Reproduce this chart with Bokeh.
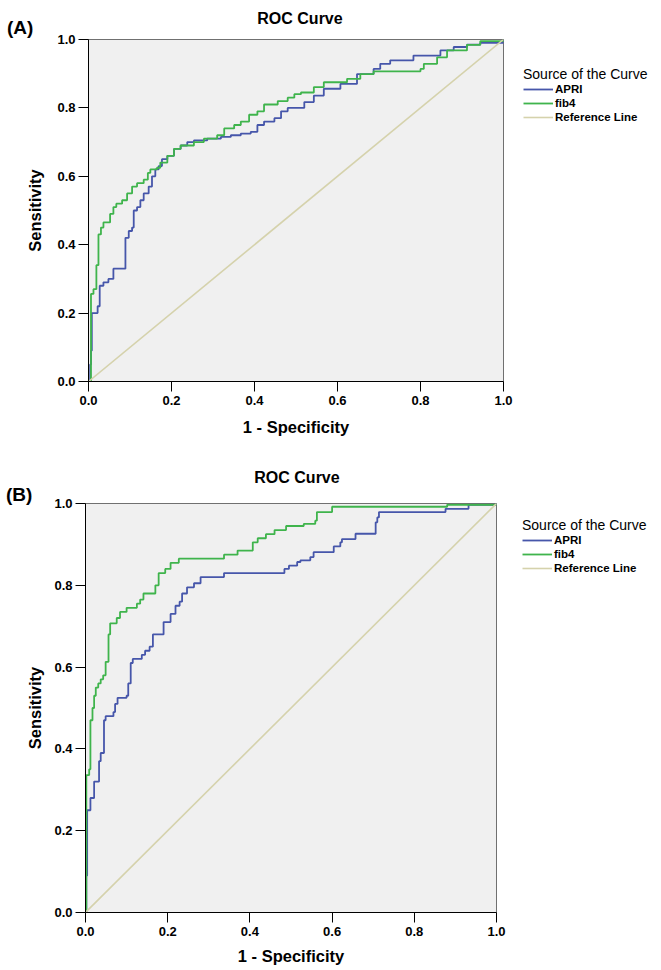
from bokeh.plotting import figure
from bokeh.layouts import column, row
from bokeh.models import Legend, LegendItem, FixedTicker, Range1d, Div
from bokeh.embed import file_html
from bokeh.resources import INLINE

# ---------------- data ----------------
ticks = [0.0, 0.2, 0.4, 0.6, 0.8, 1.0]
tick_labels = {0.0: "0.0", 0.2: "0.2", 0.4: "0.4", 0.6: "0.6", 0.8: "0.8", 1.0: "1.0"}
series_names = ["APRI", "fib4", "Reference Line"]
panel_tags = ["(A)", "(B)"]
title_text = "ROC Curve"
legend_title = "Source of the Curve"
x_label = "1 - Specificity"
y_label = "Sensitivity"

ref_x = [0.0, 1.0]
ref_y = [0.0, 1.0]

# Panel A
a_apri_x = [0.0, 0.004, 0.006, 0.008, 0.022, 0.027, 0.036, 0.048, 0.06, 0.089, 0.097, 0.105, 0.109,
            0.117, 0.125, 0.133, 0.145, 0.153, 0.161, 0.169, 0.177, 0.19, 0.206, 0.222, 0.238, 0.254,
            0.286, 0.319, 0.343, 0.367, 0.391, 0.407, 0.423, 0.448, 0.464, 0.48, 0.52, 0.543, 0.567,
            0.607, 0.647, 0.687, 0.703, 0.727, 0.783, 0.848, 0.88, 0.912, 0.944, 1.0]
a_apri_y = [0.0, 0.05, 0.09, 0.2, 0.22, 0.28, 0.29, 0.30, 0.33, 0.42, 0.44, 0.45, 0.50,
            0.51, 0.53, 0.55, 0.57, 0.60, 0.62, 0.63, 0.65, 0.66, 0.68, 0.69, 0.70, 0.705,
            0.71, 0.715, 0.72, 0.725, 0.73, 0.75, 0.76, 0.77, 0.79, 0.80, 0.817, 0.836, 0.856,
            0.87, 0.899, 0.914, 0.929, 0.939, 0.953, 0.968, 0.978, 0.985, 0.99, 1.0]
a_fib4_x = [0.0, 0.006, 0.012, 0.019, 0.024, 0.03, 0.036, 0.052, 0.06, 0.067, 0.081, 0.093, 0.105,
            0.117, 0.133, 0.143, 0.149, 0.165, 0.173, 0.19, 0.206, 0.222, 0.254, 0.278, 0.31, 0.327,
            0.351, 0.367, 0.387, 0.407, 0.423, 0.456, 0.48, 0.496, 0.512, 0.543, 0.567, 0.623, 0.655,
            0.687, 0.8, 0.808, 0.84, 0.864, 0.912, 0.944, 1.0]
a_fib4_y = [0.0, 0.256, 0.27, 0.34, 0.43, 0.45, 0.465, 0.49, 0.51, 0.52, 0.53, 0.55, 0.57,
            0.58, 0.59, 0.61, 0.62, 0.625, 0.64, 0.66, 0.68, 0.69, 0.70, 0.71, 0.72, 0.74,
            0.75, 0.76, 0.78, 0.79, 0.81, 0.82, 0.83, 0.84, 0.845, 0.861, 0.875, 0.885, 0.899,
            0.907, 0.914, 0.929, 0.948, 0.968, 0.984, 0.995, 1.0]

# Panel B
b_apri_x = [0.0, 0.002, 0.004, 0.012, 0.021, 0.033, 0.037, 0.045, 0.049, 0.068, 0.072, 0.078, 0.1,
            0.104, 0.11, 0.115, 0.137, 0.145, 0.156, 0.164, 0.19, 0.207, 0.219, 0.229, 0.235, 0.247,
            0.264, 0.28, 0.337, 0.484, 0.495, 0.515, 0.523, 0.547, 0.555, 0.604, 0.62, 0.624, 0.657,
            0.706, 0.71, 0.714, 0.876, 0.932, 1.0]
b_apri_y = [0.0, 0.09, 0.25, 0.28, 0.32, 0.37, 0.39, 0.47, 0.48, 0.49, 0.51, 0.525, 0.53,
            0.56, 0.61, 0.62, 0.63, 0.64, 0.65, 0.68, 0.71, 0.73, 0.75, 0.76, 0.78, 0.795,
            0.805, 0.82, 0.83, 0.84, 0.848, 0.857, 0.861, 0.869, 0.881, 0.895, 0.905, 0.913, 0.926,
            0.954, 0.966, 0.979, 0.987, 0.997, 1.0]
b_fib4_x = [0.0, 0.002, 0.009, 0.012, 0.017, 0.021, 0.025, 0.031, 0.037, 0.043, 0.049, 0.056, 0.06,
            0.076, 0.084, 0.1, 0.125, 0.133, 0.141, 0.17, 0.178, 0.194, 0.207, 0.227, 0.337, 0.37,
            0.407, 0.419, 0.439, 0.46, 0.488, 0.531, 0.559, 0.563, 0.6, 0.88, 1.0]
b_fib4_y = [0.0, 0.336, 0.35, 0.47, 0.50, 0.53, 0.55, 0.56, 0.57, 0.58, 0.613, 0.68, 0.707,
            0.72, 0.735, 0.745, 0.755, 0.765, 0.78, 0.80, 0.83, 0.84, 0.855, 0.865, 0.875, 0.885,
            0.905, 0.915, 0.925, 0.935, 0.945, 0.95, 0.958, 0.979, 0.992, 0.997, 1.0]

# ---------------- style ----------------
FONT = "Liberation Sans"
BLUE = "#4656AA"
GREEN = "#3FB44C"
REFC = "#D5D2AC"
FILL = "#F0F0F0"
W = 660
PW = 515            # width of each ROC figure
LW = W - PW         # width of each legend strip


def header(tag, height, title_center, title_top, tag_left, tag_top):
    html = (
        f'<div style="position:relative;width:{W}px;height:{height}px;font-family:\'{FONT}\';color:black;">'
        f'<span style="position:absolute;left:{tag_left}px;top:{tag_top}px;font-size:19px;'
        f'font-weight:bold;line-height:19px;white-space:nowrap;">{tag}</span>'
        f'<span style="position:absolute;left:0px;width:{2 * title_center}px;top:{title_top}px;'
        f'text-align:center;font-size:16px;font-weight:bold;line-height:16px;white-space:nowrap;">{title_text}</span>'
        f'</div>'
    )
    return Div(text=html, width=W, height=height, margin=0,
               styles={"overflow": "visible", "z-index": "1"})


def make_panel(apri_x, apri_y, fib4_x, fib4_y, height, frame_left, frame_right,
               top, bottom, xlab_standoff, ylab_standoff):
    p = figure(width=PW, height=height, output_backend="svg", toolbar_location=None,
               x_range=Range1d(0, 1), y_range=Range1d(0, 1), title=None,
               min_border_left=frame_left, min_border_right=PW - frame_right,
               min_border_top=top, min_border_bottom=bottom)
    p.background_fill_color = FILL
    p.border_fill_alpha = 0
    p.outline_line_color = "#707070"
    p.outline_line_width = 1
    p.xgrid.visible = False
    p.ygrid.visible = False

    p.step(apri_x, apri_y, mode="after", line_color=BLUE, line_width=1.8)
    p.step(fib4_x, fib4_y, mode="after", line_color=GREEN, line_width=1.8)
    p.line(ref_x, ref_y, line_color=REFC, line_width=1.6)

    for ax in (p.xaxis[0], p.yaxis[0]):
        ax.ticker = FixedTicker(ticks=ticks)
        ax.major_label_overrides = tick_labels
        ax.minor_tick_line_color = None
        ax.major_tick_in = 0
        ax.major_tick_out = 10
        ax.major_tick_line_color = "black"
        ax.axis_line_color = "black"
        ax.major_label_text_font = FONT
        ax.major_label_text_font_style = "bold"
        ax.major_label_text_font_size = "13px"
        ax.major_label_text_color = "black"
        ax.axis_label_text_font = FONT
        ax.axis_label_text_font_style = "bold"
        ax.axis_label_text_font_size = "16.5px"
        ax.axis_label_text_color = "black"
    p.xaxis[0].axis_label = x_label
    p.yaxis[0].axis_label = y_label
    p.xaxis[0].major_label_standoff = 4
    p.yaxis[0].major_label_standoff = 3
    p.xaxis[0].axis_label_standoff = xlab_standoff
    p.yaxis[0].axis_label_standoff = ylab_standoff
    return p


def legend_strip(height, loc, apri_x, apri_y, fib4_x, fib4_y):
    # legend-only strip: same series and styles, its view range keeps the lines out of sight
    q = figure(width=LW, height=height, output_backend="svg", toolbar_location=None,
               x_axis_type=None, y_axis_type=None, title=None,
               x_range=Range1d(10, 11), y_range=Range1d(10, 11),
               min_border_left=0, min_border_right=0, min_border_top=0, min_border_bottom=0)
    q.background_fill_alpha = 0
    q.border_fill_alpha = 0
    q.outline_line_color = None
    k_apri = q.line(apri_x, apri_y, line_color=BLUE, line_width=1.8)
    k_fib4 = q.line(fib4_x, fib4_y, line_color=GREEN, line_width=1.8)
    k_ref = q.line(ref_x, ref_y, line_color=REFC, line_width=1.6)
    legend = Legend(items=[LegendItem(label=series_names[0], renderers=[k_apri]),
                           LegendItem(label=series_names[1], renderers=[k_fib4]),
                           LegendItem(label=series_names[2], renderers=[k_ref])],
                    location=loc, title=legend_title,
                    title_text_font=FONT, title_text_font_size="14px",
                    title_text_font_style="normal", title_text_color="black",
                    title_standoff=0,
                    label_text_font=FONT, label_text_font_size="11.5px",
                    label_text_font_style="bold", label_text_color="black",
                    label_height=14, glyph_height=14, glyph_width=30,
                    label_standoff=2, spacing=0, padding=0, margin=0,
                    border_line_color=None, background_fill_alpha=0)
    q.add_layout(legend)
    return q


HA, HB = 427, 474
div_a = header(panel_tags[0], 31, title_center=300, title_top=11, tag_left=7, tag_top=18)
pa = make_panel(a_apri_x, a_apri_y, a_fib4_x, a_fib4_y,
                height=HA, frame_left=88, frame_right=503, top=8, bottom=77,
                xlab_standoff=10, ylab_standoff=10)
la = legend_strip(HA, (8, 257), a_apri_x, a_apri_y, a_fib4_x, a_fib4_y)
div_b = header(panel_tags[1], 37, title_center=297, title_top=12, tag_left=6, tag_top=27)
pb = make_panel(b_apri_x, b_apri_y, b_fib4_x, b_fib4_y,
                height=HB, frame_left=85, frame_right=496, top=8, bottom=57,
                xlab_standoff=8, ylab_standoff=7)
lb = legend_strip(HB, (7, 337), b_apri_x, b_apri_y, b_fib4_x, b_fib4_y)

layout = column(div_a, row(pa, la, spacing=0), div_b, row(pb, lb, spacing=0), spacing=0)
open("out.html", "w").write(file_html(layout, INLINE))
